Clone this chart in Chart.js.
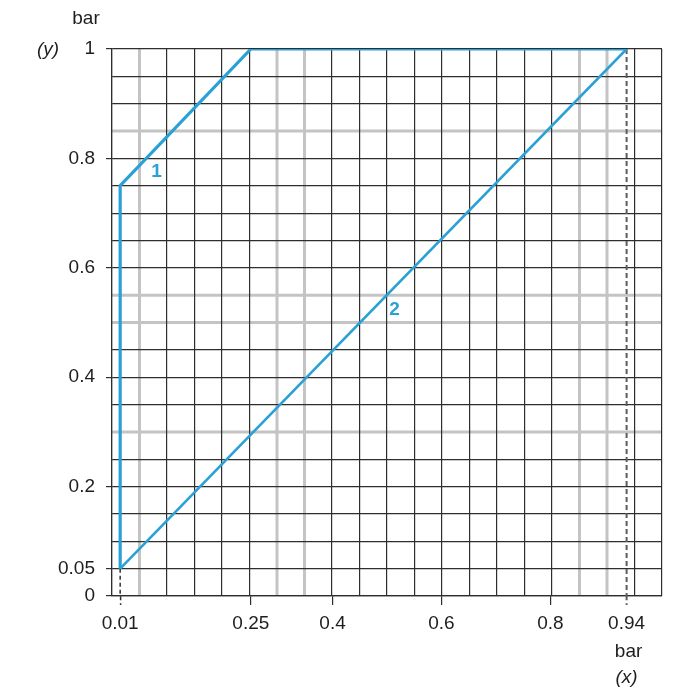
<!DOCTYPE html>
<html><head><meta charset="utf-8">
<script src="https://cdn.jsdelivr.net/npm/chart.js@4.4.0/dist/chart.umd.min.js"></script>
<style>html,body{margin:0;padding:0;background:#fff}#wrap{width:700px;height:700px}</style>
</head><body><div id="wrap"><canvas id="c" width="700" height="700"></canvas></div>
<script>
// ---- data ----
const xTickLabels = [0.01, 0.25, 0.4, 0.6, 0.8, 0.94];
const yTickLabels = [0, 0.05, 0.2, 0.4, 0.6, 0.8, 1];
const curve1X = [0.01, 0.01, 0.25, 0.94];
const curve1Y = [0.05, 0.75, 1, 1];
const curve2X = [0.01, 0.94];
const curve2Y = [0.05, 1];
const drop1X = [0.01, 0.01];
const drop1Y = [0.05, 0];
const drop2X = [0.94, 0.94];
const drop2Y = [1, 0];
const curveNames = ['1', '2'];
const curveNameX = [0.077, 0.514];
const curveNameY = [0.776, 0.523];

// ---- config ----
const xMin = -0.005, xMax = 1.005, yMin = 0, yMax = 1;
const divisions = 20;
const xGrayIdx = [1, 6, 7, 17, 18];
const yGrayIdx = [6, 10, 11, 17];
const BLUE = '#2aa1d6', DARK = '#2e2e2e', GRAY = '#c4c4c4', NONE = 'rgba(0,0,0,0)', TXT = '#1e1e1e';
const FONT = 'Liberation Sans, Arial, sans-serif';

const xGrid = Array.from({length: divisions + 1}, (_, k) => xMin + k * (xMax - xMin) / divisions);
const near = (a, b) => Math.abs(a - b) < 1e-7;
const xLabelOf = v => xTickLabels.find(t => near(t, v));
const yLabelOf = v => yTickLabels.find(t => Math.abs(t - v) < 1e-6);
const yGrayVal = yGrayIdx.map(k => yMin + k * (yMax - yMin) / divisions);
const isYGray = v => yGrayVal.some(g => Math.abs(g - v) < 1e-6);
const isXGrid = v => xGrid.some(g => near(g, v));
const xGrayVal = xGrayIdx.map(k => xGrid[k]);
const isXGray = v => xGrayVal.some(g => near(g, v));

const pts = (xs, ys) => xs.map((x, i) => ({x, y: ys[i]}));

const grayPlugin = {
  id: 'grayGrid',
  beforeDraw(chart) {
    const {ctx, chartArea: a, scales: {x, y}} = chart;
    ctx.save();
    ctx.strokeStyle = GRAY; ctx.lineWidth = 3;
    xGrayVal.forEach(v => { const px = x.getPixelForValue(v); ctx.beginPath(); ctx.moveTo(px, a.top); ctx.lineTo(px, a.bottom); ctx.stroke(); });
    yGrayVal.forEach(v => { const py = y.getPixelForValue(v); ctx.beginPath(); ctx.moveTo(a.left, py); ctx.lineTo(a.right, py); ctx.stroke(); });
    ctx.restore();
  }
};
const textPlugin = {
  id: 'texts',
  afterDraw(chart) {
    const {ctx, chartArea: a, scales: {x, y}} = chart;
    ctx.save();
    ctx.textAlign = 'center'; ctx.textBaseline = 'middle';
    ctx.fillStyle = BLUE; ctx.font = 'bold 19px ' + FONT;
    curveNames.forEach((n, i) => ctx.fillText(n, x.getPixelForValue(curveNameX[i]), y.getPixelForValue(curveNameY[i])));
    ctx.fillStyle = TXT;
    ctx.font = '19px ' + FONT;
    ctx.fillText('bar', a.left - 26, a.top - 30);
    const px = x.getPixelForValue(xTickLabels[xTickLabels.length - 1]);
    ctx.fillText('bar', px + 2, a.bottom + 56);
    ctx.font = 'italic 19px ' + FONT;
    ctx.fillText('(y)', a.left - 64, a.top + 1);
    ctx.fillText('(x)', px, a.bottom + 82);
    ctx.restore();
  }
};

new Chart(document.getElementById('c'), {
  type: 'scatter',
  data: {
    datasets: [
      {data: pts(curve1X, curve1Y), showLine: true, borderColor: BLUE, borderWidth: 3.2, pointRadius: 0, tension: 0, fill: false},
      {data: pts(curve2X, curve2Y), showLine: true, borderColor: BLUE, borderWidth: 2.6, pointRadius: 0, tension: 0, fill: false},
      {data: pts(drop1X, drop1Y), showLine: true, borderColor: '#333', borderWidth: 1.5, borderDash: [4, 3], pointRadius: 0},
      {data: pts(drop2X, drop2Y), showLine: true, borderColor: '#5c5c5c', borderWidth: 2, borderDash: [5, 3], pointRadius: 0}
    ]
  },
  options: {
    responsive: false, animation: false, devicePixelRatio: 1,
    layout: {padding: {left: 0, right: 38, top: 49, bottom: 0}},
    plugins: {legend: {display: false}, tooltip: {enabled: false}},
    scales: {
      x: {
        type: 'linear', min: xMin, max: xMax,
        afterBuildTicks: s => {
          const vals = [...xGrid, ...xTickLabels].sort((a, b) => a - b);
          s.ticks = vals.map(v => ({value: v}));
        },
        afterFit: s => { s.height = 104; },
        border: {display: true, color: DARK, width: 1.2},
        grid: {
          tickLength: 9,
          color: c => { const v = c.tick ? c.tick.value : null; if (v === null) return DARK; if (!isXGrid(v) || isXGray(v)) return NONE; return DARK; },
          lineWidth: 1.2,
          tickColor: c => { const v = c.tick ? c.tick.value : null; if (v === null || xLabelOf(v) === undefined) return NONE; return near(v, 0.94) ? '#5c5c5c' : DARK; },
          tickWidth: c => { const v = c.tick ? c.tick.value : 0; return near(v, 0.94) ? 2 : (near(v, 0.01) ? 1.5 : 1.2); },
          tickBorderDash: c => { const v = c.tick ? c.tick.value : 0; return (near(v, 0.94) || near(v, 0.01)) ? [4, 3] : []; }
        },
        ticks: {
          autoSkip: false, maxRotation: 0, padding: 7, color: TXT, font: {family: FONT, size: 19},
          callback: v => { const l = xLabelOf(v); return l === undefined ? '' : String(l); }
        }
      },
      y: {
        type: 'linear', min: yMin, max: yMax,
        afterFit: s => { s.width = 112; },
        border: {display: true, color: DARK, width: 1.2},
        grid: {
          tickLength: 6,
          color: c => { const v = c.tick ? c.tick.value : null; if (v === null) return DARK; return isYGray(v) ? NONE : DARK; },
          lineWidth: 1.2,
          tickColor: c => { const v = c.tick ? c.tick.value : null; if (v === null || yLabelOf(v) === undefined) return NONE; return DARK; }
        },
        ticks: {
          autoSkip: false, stepSize: 0.05, padding: 11, color: TXT, font: {family: FONT, size: 19},
          callback: v => { const l = yLabelOf(v); return l === undefined ? '' : String(l); }
        }
      }
    }
  },
  plugins: [grayPlugin, textPlugin]
});
</script></body></html>
